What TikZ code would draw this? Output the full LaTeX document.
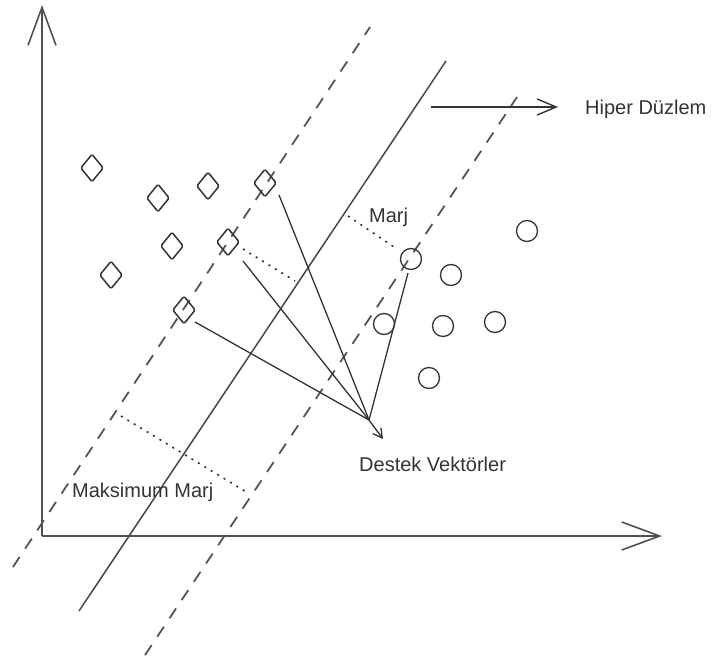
\documentclass[tikz,border=0pt]{standalone}
\usepackage{fontspec}
\setmainfont{Liberation Sans}
\usetikzlibrary{arrows.meta,shapes.geometric}
\definecolor{ink}{HTML}{333333}
\definecolor{axisgray}{HTML}{505050}
\definecolor{dashgray}{HTML}{555555}
\begin{document}
\begin{tikzpicture}[x=1pt,y=-1pt,
  axis/.style={draw=axisgray,line width=2.2pt,-{Straight Barb[length=38pt,width=28pt,line width=1.6pt]}},
  plane/.style={draw=ink!90,line width=1.5pt},
  marginline/.style={draw=dashgray,line width=1.8pt,dash pattern=on 12pt off 10pt},
  gap/.style={draw=ink,line width=1.6pt,dash pattern=on 2pt off 5.5pt},
  pointer/.style={draw=ink,line width=1.3pt},
  classA/.style={shape=diamond,draw=ink,line width=1.5pt,minimum width=23pt,minimum height=28pt,inner sep=0pt,rounded corners=1.5pt},
  classB/.style={shape=circle,draw=ink,line width=1.3pt,minimum size=21pt,inner sep=0pt},
  caption/.style={text=ink,inner sep=0pt,anchor=base west,font=\fontsize{20}{24}\selectfont}]
\useasboundingbox (0,0) rectangle (713,659);

% coordinate axes
\coordinate (origin) at (42,536);
\coordinate (ytip) at (42,5);
\coordinate (xtip) at (662,536);
\draw[axis] (origin) -- (ytip);
\draw[axis] (origin) -- (xtip);

% separating hyperplane and the two margin boundaries
\coordinate (hpA) at (79,611);   \coordinate (hpB) at (446,61);
\coordinate (lmA) at (13,567);   \coordinate (lmB) at (370,27);
\coordinate (rmA) at (145,655);  \coordinate (rmB) at (517,97);
\draw[marginline] (lmA) -- (lmB);
\draw[plane] (hpA) -- (hpB);
\draw[marginline] (rmA) -- (rmB);

% class A samples
\node[classA] (d1) at (92,168) {};
\node[classA] (d2) at (158,198) {};
\node[classA] (d3) at (208,186) {};
\node[classA] (d4) at (265,183) {};
\node[classA] (d5) at (172,246) {};
\node[classA] (d6) at (228,242) {};
\node[classA] (d7) at (111,275) {};
\node[classA] (d8) at (184,310) {};

% class B samples
\node[classB] (c1) at (527,231) {};
\node[classB] (c2) at (411,259) {};
\node[classB] (c3) at (451,275) {};
\node[classB] (c4) at (384,324) {};
\node[classB] (c5) at (443,326) {};
\node[classB] (c6) at (495,322) {};
\node[classB] (c7) at (429,378) {};

% hyperplane label
\coordinate (hpArrowStart) at (431,107);
\node[caption] (hpLabel) at (585,114) {Hiper Düzlem};
\draw[pointer,line width=1.5pt,-{Straight Barb[length=19pt,width=16pt,line width=1.4pt]}] (hpArrowStart) -- (558,107);

% margin measurements
\coordinate (mgA) at (348,216);
\coordinate (mgB) at (295,281);
\draw[gap] (mgA) -- ([shift={(-14,-10)}]c2.center);
\draw[gap] ([shift={(15,7)}]d6.center) -- (mgB);
\node[caption] (marjLabel) at (369,222) {Marj};

\coordinate (mmA) at (121,416);
\coordinate (mmB) at (248,493);
\draw[gap] (mmA) -- (mmB);
\node[caption] (maxLabel) at (72,497) {Maksimum Marj};

% support vectors
\coordinate (sv) at (369,420);
\draw[pointer] ([shift={(14,12)}]d4.center) -- (sv);
\draw[pointer] ([shift={(15,19)}]d6.center) -- (sv);
\draw[pointer] ([shift={(11,12)}]d8.center) -- (sv);
\draw[pointer] ([shift={(-3,14)}]c2.center) -- (sv);
\draw[pointer,-{Straight Barb[length=9pt,width=10pt,line width=1.3pt]}] (sv) -- (383,439);
\node[caption] (svLabel) at (359,471) {Destek Vektörler};
\end{tikzpicture}
\end{document}
